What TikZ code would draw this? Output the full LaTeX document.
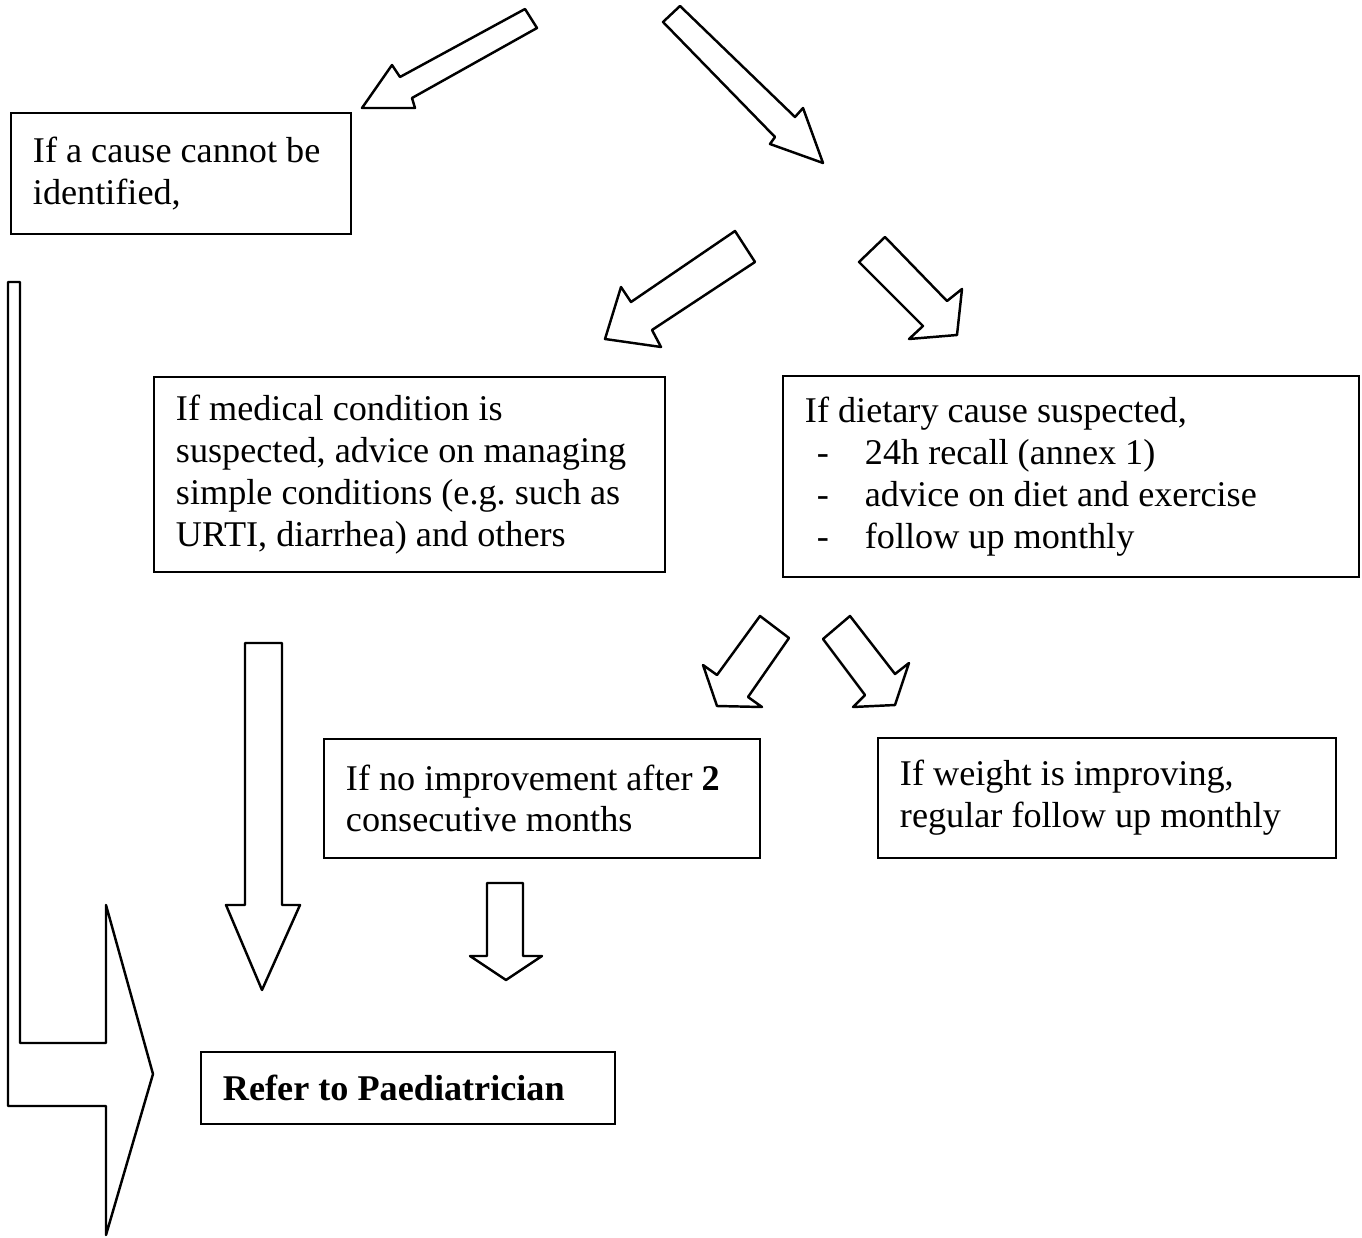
\documentclass[tikz,border=0pt]{standalone}
\usepackage{fontspec}
\setmainfont{Liberation Serif}
\usetikzlibrary{positioning}
\tikzset{
  flowbox/.style={draw, line width=1.1pt, anchor=north west, align=flush left, inner xsep=0.44cm, inner ysep=0pt},
  hollow/.style={draw, line width=1.4pt, line join=round, fill=white},
}

\begin{document}
\begin{tikzpicture}[x=0.02cm,y=-0.02cm,font=\fontsize{20.6}{23.8}\selectfont]
\useasboundingbox (0,0) rectangle (1362,1237);

% Boxes
\node[flowbox, minimum width=6.8cm, minimum height=2.42cm, text width=5.92cm] (cause) at (10,112) {If a cause cannot be\\identified,};
\node[flowbox, minimum width=10.22cm, minimum height=3.9cm, text width=9.34cm] (medical) at (153,376) {If medical condition is\\suspected, advice on managing\\simple conditions (e.g.\ such as\\URTI, diarrhea) and others};
\node[flowbox, minimum width=11.52cm, minimum height=4.02cm, text width=10.64cm] (dietary) at (782,375) {If dietary cause suspected,\\
  \hspace*{0.24cm}\makebox[0.96cm][l]{-}24h recall (annex 1)\\
  \hspace*{0.24cm}\makebox[0.96cm][l]{-}advice on diet and exercise\\
  \hspace*{0.24cm}\makebox[0.96cm][l]{-}follow up monthly};
\node[flowbox, minimum width=8.72cm, minimum height=2.38cm, text width=7.84cm] (noimprove) at (323,738) {If no improvement after \textbf{2}\\consecutive months};
\node[flowbox, minimum width=9.16cm, minimum height=2.4cm, text width=8.28cm] (improving) at (877,737) {If weight is improving,\\regular follow up monthly};
\node[flowbox, minimum width=8.28cm, minimum height=1.44cm, text width=7.4cm] (refer) at (200,1051) {\textbf{Refer to Paediatrician}};

% Top arrows
\draw[hollow] (525,9) -- (537,28) -- (412,98) -- (415,108) -- (362,108) -- (392,65) -- (400,77) -- cycle;
\draw[hollow] (680,6) -- (795,117) -- (803,108) -- (823,163) -- (770,144) -- (775,137) -- (663,22) -- cycle;

% Second level
\draw[hollow] (735,231) -- (755,262) -- (652,330) -- (661,347) -- (605,339) -- (621,287) -- (631,302) -- cycle;
\draw[hollow] (885,237) -- (947,301) -- (962,289) -- (957,335) -- (909,339) -- (923,326) -- (859,262) -- cycle;

% Below dietary box
\draw[hollow] (760,616) -- (789,638) -- (748,697) -- (762,707) -- (717,706) -- (703,665) -- (717,675) -- cycle;
\draw[hollow] (850,616) -- (895,674) -- (909,663) -- (895,705) -- (853,707) -- (865,695) -- (823,639) -- cycle;

% Down to referral
\draw[hollow] (245,643) -- (282,643) -- (282,905) -- (300,905) -- (262,990) -- (226,905) -- (245,905) -- cycle;
\draw[hollow] (487,883) -- (523,883) -- (523,956) -- (542,956) -- (506,980) -- (470,956) -- (487,956) -- cycle;

% Bent arrow on the left
\draw[hollow] (8,282) -- (20,282) -- (20,1043) -- (106,1043) -- (106,905) -- (153,1074) -- (106,1235) -- (106,1106) -- (8,1106) -- cycle;
\end{tikzpicture}
\end{document}
